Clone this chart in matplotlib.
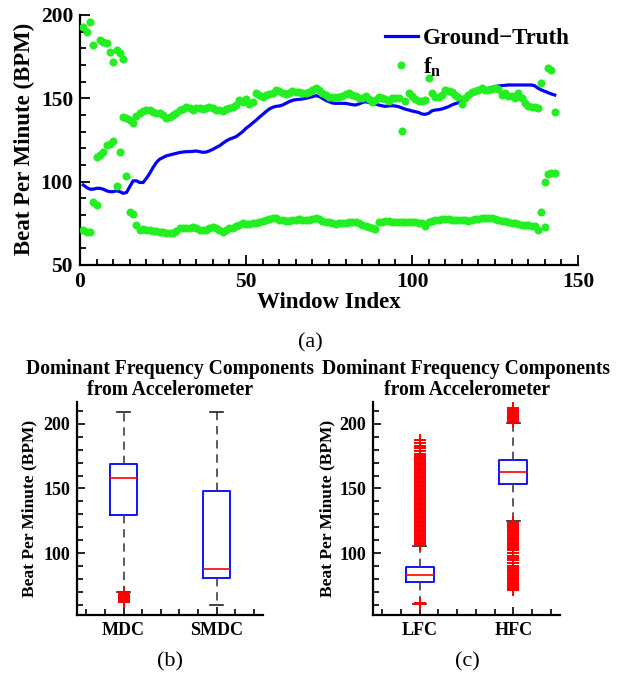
import numpy as np
import matplotlib
matplotlib.use("Agg")
import matplotlib.pyplot as plt
from matplotlib.ticker import MultipleLocator, FixedLocator

plt.rcParams['font.family'] = ['Liberation Serif', 'DejaVu Serif']
plt.rcParams['mathtext.fontset'] = 'custom'
plt.rcParams['mathtext.rm'] = 'Liberation Serif'
plt.rcParams['mathtext.bf'] = 'Liberation Serif:bold'
plt.rcParams['mathtext.it'] = 'Liberation Serif:italic'

# ---------------- data: panel (a) ----------------
ground_truth = [98, 96.5, 95.5, 95.5, 96, 96, 95.5, 94.5, 94, 94,
                94.5, 94, 93, 93.5, 97, 100.5, 100.5, 99.5, 99.5, 102,
                105, 108.5, 111.5, 113.5, 114.5, 115.5, 116, 116.5, 117, 117.5,
                117.8, 118, 118, 118.2, 118.4, 118, 117.6, 117.8, 118.5, 119.4,
                120.5, 121.5, 123, 124.4, 125.5, 126.2, 127, 128.5, 130, 132,
                133.5, 135.2, 136.8, 138.6, 140.3, 142, 143.6, 144.6, 145.2, 145.4,
                146, 147, 148, 148.8, 149.2, 149.4, 149.6, 150, 150.5, 151,
                151.6, 151.2, 150, 148.8, 148, 147.2, 147, 147, 147, 147,
                146.6, 146.2, 146, 146.6, 147.5, 148, 147.5, 147, 146.5, 146,
                145.5, 145.2, 145.5, 145.6, 145.4, 145, 144.2, 143.5, 143, 142.4,
                142, 141.5, 140.6, 140.4, 141, 142.5, 143, 143.2, 143.6, 144.3,
                145, 146, 146.8, 147.4, 148.5, 150, 151, 152, 153, 154.5,
                155.3, 155.6, 156, 156.6, 157, 157.4, 157.6, 157.8, 158, 158,
                158, 158, 158, 158, 158, 158, 157.5, 156, 155, 154.2,
                153.4, 152.6, 152]

fn_a = [193, 190, 196, 182, 115, 185, 184, 183, 178, 172,
        179, 177, 173.5, 138, 137, 135.5, 139.5, 141, 142.5, 143,
        143, 142, 141.5, 141, 140, 138, 139, 140, 141.5, 143,
        143.5, 145, 144, 143, 144, 144, 143.5, 144, 144.6, 144,
        143, 143, 142.5, 143.5, 144, 145, 146, 149, 148, 149.4,
        146.6, 148, 153, 152, 150.6, 152, 152.5, 153.4, 155, 154.6,
        153.4, 152.4, 153, 154.6, 154, 154, 153.5, 153.4, 154, 155,
        156, 155, 153.4, 152, 150.6, 150.6, 150.6, 151, 151.4, 152.5,
        153.4, 152, 151.4, 150.5, 150, 151.4, 149.5, 148, 149, 150.6,
        150, 149.4, 148.6, 150.4, 150, 150, 130.6, 148.6, 153, 151.4,
        149.4, 148.6, 148.6, 149, 162, 153.4, 150.6, 151, 152, 155,
        154.5, 154, 152, 150.6, 146.6, 150, 152, 154, 154.5, 155,
        156, 155, 155, 155.6, 156, 155.4, 152, 153.4, 151.6, 151.4,
        150, 153.4, 150, 147.4, 145.4, 145, 144.6, 144, 159.4, 100,
        168, 167, 142]

fn_b = [71, 70, 70, 88, 86, 116, 118, 122, 122.5, 124.5,
        97.6, 118, 138.6, 103.5, 82, 80.4, 74, 71, 71.5, 71,
        71, 70.5, 70.5, 70, 70, 69.5, 69, 69.5, 70.5, 72,
        72, 72, 72.5, 72.6, 72, 71, 71, 71, 72, 73,
        72, 71, 70, 71, 72, 72.5, 73.4, 74, 75, 74.4,
        74.5, 75, 75.5, 76, 76.5, 77, 77.5, 78, 78, 77,
        77, 76.6, 76.6, 77, 77, 77.4, 77, 77, 77, 77.5,
        78, 77.5, 76.6, 76, 75.6, 75, 74.4, 75, 75, 75.5,
        76, 76, 75.6, 75, 74, 73.5, 73, 72, 71.4, 76,
        76, 76.6, 76.6, 76, 76, 75.6, 75.6, 76, 76, 76,
        76, 75.5, 75, 73.4, 76, 76.5, 77, 77, 77.4, 77.4,
        77.4, 77, 77, 77, 77, 76.8, 76.6, 77, 77.4, 77.4,
        78, 78, 78, 78.5, 77.4, 77, 76.6, 76.5, 76, 75.5,
        75, 74.5, 74, 74, 74, 73.5, 73.4, 71, 82, 72.6,
        104.6, 105, 105.4]

window = np.arange(1, len(ground_truth) + 1)

# ---------------- data: panels (b) and (c) ----------------
b_labels = ['MDC', 'SMDC']
b_q1 = [129.2, 80.4]
b_med = [158.1, 87.4]
b_q3 = [168.8, 147.8]
b_whislo = [69.5, 59.9]
b_whishi = [209.5, 209.5]
b_fliers = [[62, 62.5, 63, 63.5, 64, 64.5, 65, 65.5, 66, 66.5, 67, 67.5, 68, 68.5, 69],
            []]

c_labels = ['LFC', 'HFC']
c_q1 = [77.5, 153.2]
c_med = [82.7, 163.0]
c_q3 = [88.9, 172.1]
c_whislo = [60.5, 124.8]
c_whishi = [105.7, 200.5]
c_fliers = [[60.5, 61,
             106, 107, 108, 109, 110, 111, 112, 113, 114, 115, 116, 117, 118, 119,
             120, 121, 122, 123, 124, 125, 126, 127, 128, 129, 130, 131, 132, 133,
             134, 135, 136, 137, 138, 139, 140, 141, 142, 143, 144, 145, 146, 147,
             148, 149, 150, 151, 152, 153, 154, 155, 156, 157, 158, 159, 160, 161,
             162, 163, 164, 165, 166, 167, 168, 169, 170, 171, 172, 173, 174, 175,
             177, 179, 181, 183, 185, 187.5],
            [201.5, 202.5, 203.5, 204.5, 205.5, 206.5, 207.5, 208.5, 209.5, 210.5, 212,
             124, 123, 122, 121, 120, 119, 118, 117, 116, 115, 114, 113, 112, 111,
             110, 109, 108, 107, 106, 105, 104, 103, 102, 100, 98, 96, 94.5, 92,
             90, 89, 88, 87, 86, 85, 84, 83, 82, 81, 80, 79, 78, 77, 76, 75, 74,
             73, 72, 71]]

GREEN = '#22EE22'
BLUE = '#0000FF'

fig = plt.figure(figsize=(6.18, 6.81), dpi=100)

# ---------------- panel (a) ----------------
ax = fig.add_axes([80/618, 1-265/681, 498/618, 250/681])
ax.plot(window, ground_truth, color=BLUE, lw=2.3, label='Ground\u2212Truth', zorder=2)
ax.plot(window, fn_a, 'o', color=GREEN, ms=5.8, mec='none', label=r'$\mathbf{f}_{\mathbf{n}}$', zorder=3)
ax.plot(window, fn_b, 'o', color=GREEN, ms=5.8, mec='none', zorder=3)
ax.set_xlim(0, 150)
ax.set_ylim(50, 200)
ax.xaxis.set_major_locator(MultipleLocator(50))
ax.xaxis.set_minor_locator(MultipleLocator(5))
ax.yaxis.set_major_locator(MultipleLocator(50))
ax.yaxis.set_minor_locator(MultipleLocator(10))
for s in ['top', 'right']:
    ax.spines[s].set_visible(False)
for s in ['left', 'bottom']:
    ax.spines[s].set_linewidth(1.6)
ax.tick_params(which='both', direction='in', width=1.3)
ax.tick_params(which='major', length=7, labelsize=15.5, pad=5)
ax.tick_params(which='minor', length=4)
for lab in ax.get_xticklabels() + ax.get_yticklabels():
    lab.set_fontweight('bold')
ax.set_xlabel('Window Index', fontsize=16.5, fontweight='bold', labelpad=0)
ax.set_ylabel('Beat Per Minute (BPM)', fontsize=16.5, fontweight='bold')
ax.yaxis.set_label_coords(-0.09, 0.506)
leg = ax.legend(loc='upper left', bbox_to_anchor=(0.612, 0.95), frameon=False,
                handlelength=1.45, handletextpad=0.2, labelspacing=0.3,
                borderpad=0, borderaxespad=0,
                prop={'family': 'Liberation Serif', 'weight': 'bold', 'size': 16.5})

fig.text(310/618, 1-343/681, '(a)', ha='center', va='center', fontsize=16)


def box_panel(rect, labels, q1, med, q3, wlo, whi, fliers, ylabel_x, caption_x, caption):
    bx = fig.add_axes(rect)
    stats = []
    for i in range(len(labels)):
        stats.append(dict(label=labels[i], q1=q1[i], med=med[i], q3=q3[i],
                          whislo=wlo[i], whishi=whi[i], fliers=np.array(fliers[i])))
    bx.bxp(stats, positions=[1, 2], widths=0.3, capwidths=0.14, showfliers=True,
           boxprops=dict(color=BLUE, lw=1.3),
           medianprops=dict(color='red', lw=1.2),
           whiskerprops=dict(color='#404040', lw=1.2, ls=(0, (5, 3.5))),
           capprops=dict(color='#202020', lw=1.2),
           flierprops=dict(marker='+', markeredgecolor='red', markersize=8,
                           markeredgewidth=1.4, ls='none'))
    bx.set_xlim(0.5, 2.5)
    bx.set_ylim(52, 217)
    bx.xaxis.set_major_locator(FixedLocator([1, 2]))
    bx.set_xticklabels(labels)
    bx.xaxis.set_minor_locator(FixedLocator([0.6, 0.8, 1.2, 1.4, 1.6, 1.8, 2.2, 2.4]))
    bx.yaxis.set_major_locator(FixedLocator([100, 150, 200]))
    bx.yaxis.set_minor_locator(FixedLocator([60, 70, 80, 90, 110, 120, 130, 140, 160, 170, 180, 190, 210]))
    for s in ['top', 'right']:
        bx.spines[s].set_visible(False)
    for s in ['left', 'bottom']:
        bx.spines[s].set_linewidth(1.6)
    bx.tick_params(which='both', direction='in', width=1.2)
    bx.tick_params(which='major', length=6, labelsize=13, pad=5)
    bx.tick_params(which='minor', length=4)
    for lab in bx.get_xticklabels() + bx.get_yticklabels():
        lab.set_fontweight('bold')
    bx.set_ylabel('Beat Per Minute (BPM)', fontsize=12.5, fontweight='bold')
    bx.yaxis.set_label_coords(ylabel_x, 0.5)
    bx.set_title('Dominant Frequency Components\nfrom Accelerometer', fontsize=14.1,
                 fontweight='bold', pad=5, linespacing=1.05)
    fig.text(caption_x, 1-662/681, caption, ha='center', va='center', fontsize=16)
    return bx


box_panel([77/618, 1-615/681, 186/618, 213/681], b_labels, b_q1, b_med, b_q3,
          b_whislo, b_whishi, b_fliers, -0.215, 170/618, '(b)')
box_panel([373/618, 1-615/681, 187/618, 213/681], c_labels, c_q1, c_med, c_q3,
          c_whislo, c_whishi, c_fliers, -0.203, 467/618, '(c)')

fig.savefig('out.png', dpi=100)
